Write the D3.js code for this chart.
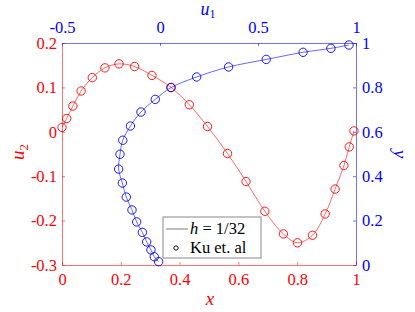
<!DOCTYPE html>
<html>
<head>
<meta charset="utf-8">
<script src="https://cdn.jsdelivr.net/npm/d3@7"></script>
</head>
<body style="margin:0;background:#fff">
<div id="chart"></div>
<script>
// Red series: u2 along the horizontal centre line (x, u2)
const redX  = [0.000, 0.016, 0.037, 0.065, 0.103, 0.146, 0.194, 0.247, 0.306, 0.371, 0.433, 0.495,
               0.563, 0.626, 0.690, 0.753, 0.801, 0.852, 0.895, 0.929, 0.959, 0.977, 0.993];
const redU2 = [0.010, 0.030, 0.058, 0.092, 0.122, 0.144, 0.153, 0.147, 0.127, 0.100, 0.061, 0.012,
               -0.049, -0.112, -0.179, -0.230, -0.250, -0.233, -0.185, -0.129, -0.076, -0.034, 0.002];

// Blue series: u1 along the vertical centre line (u1, y)
const blueU1 = [-0.007, -0.029, -0.046, -0.068, -0.090, -0.119, -0.143, -0.172, -0.192, -0.211, -0.204,
                -0.190, -0.151, -0.097, -0.024, 0.056, 0.187, 0.350, 0.542, 0.730, 0.872, 0.964];
const blueY  = [0.015, 0.037, 0.068, 0.104, 0.147, 0.194, 0.248, 0.306, 0.369, 0.432, 0.499,
                0.562, 0.626, 0.689, 0.746, 0.799, 0.847, 0.892, 0.926, 0.958, 0.976, 0.991];

const xTicks  = [0, 0.2, 0.4, 0.6, 0.8, 1];
const u2Ticks = [-0.3, -0.2, -0.1, 0, 0.1, 0.2];
const u1Ticks = [-0.5, 0, 0.5, 1];
const yTicks  = [0, 0.2, 0.4, 0.6, 0.8, 1];

const legendItems = ["h = 1/32", "Ku et. al"];

const red = "#ff0000", blue = "#0000ff";
const FONT = "Liberation Serif";

const W = 415, H = 312;
const margin = {top: 43, right: 59, bottom: 47, left: 62};
const width = W - margin.left - margin.right;
const height = H - margin.top - margin.bottom;

const svg = d3.select("#chart").append("svg")
    .attr("width", W)
    .attr("height", H)
    .attr("font-family", FONT);

const g = svg.append("g")
    .attr("transform", `translate(${margin.left},${margin.top})`);

// scales
const x  = d3.scaleLinear().domain([0, 1]).range([0, width]);
const u1 = d3.scaleLinear().domain([-0.5, 1]).range([0, width]);
const u2 = d3.scaleLinear().domain([-0.3, 0.2]).range([height, 0]);
const y  = d3.scaleLinear().domain([0, 1]).range([height, 0]);

const fmt = d => String(d);

function styleAxis(sel, color) {
  sel.attr("font-family", FONT).attr("font-size", 16.5);
  sel.select(".domain").attr("stroke", color).attr("stroke-opacity", 0.55);
  sel.selectAll(".tick line").attr("stroke", color).attr("stroke-opacity", 0.55);
  sel.selectAll(".tick text").attr("fill", color).attr("font-family", FONT);
}

// axes
g.append("g")
    .attr("transform", `translate(0,${height})`)
    .call(d3.axisBottom(x).tickValues(xTicks).tickFormat(fmt).tickSize(-3).tickSizeOuter(0).tickPadding(8))
    .call(s => styleAxis(s, red));

g.append("g")
    .call(d3.axisLeft(u2).tickValues(u2Ticks).tickFormat(fmt).tickSize(-3).tickSizeOuter(0).tickPadding(5))
    .call(s => styleAxis(s, red));

g.append("g")
    .call(d3.axisTop(u1).tickValues(u1Ticks).tickFormat(fmt).tickSize(-3).tickSizeOuter(0).tickPadding(10))
    .call(s => styleAxis(s, blue));

g.append("g")
    .attr("transform", `translate(${width},0)`)
    .call(d3.axisRight(y).tickValues(yTicks).tickFormat(fmt).tickSize(-3).tickSizeOuter(0).tickPadding(6))
    .call(s => styleAxis(s, blue));

// axis labels
svg.append("text")
    .attr("x", 210).attr("y", 305)
    .attr("text-anchor", "middle")
    .attr("fill", red)
    .attr("font-family", FONT)
    .attr("font-size", 19).attr("font-style", "italic")
    .text("x");

const u2Label = svg.append("text")
    .attr("transform", "translate(24,152) rotate(-90)")
    .attr("text-anchor", "middle")
    .attr("fill", red)
    .attr("font-family", FONT)
    .attr("font-size", 19).attr("font-style", "italic");
u2Label.append("tspan").text("u");
u2Label.append("tspan").attr("dy", 4).attr("font-size", 13).attr("font-style", "normal").text("2");

const u1Label = svg.append("text")
    .attr("x", 208).attr("y", 15)
    .attr("text-anchor", "middle")
    .attr("fill", blue)
    .attr("font-family", FONT)
    .attr("font-size", 18).attr("font-style", "italic");
u1Label.append("tspan").text("u");
u1Label.append("tspan").attr("dy", 3).attr("font-size", 12).attr("font-style", "normal").text("1");

svg.append("text")
    .attr("transform", "translate(394,154) rotate(90)")
    .attr("text-anchor", "middle")
    .attr("fill", blue)
    .attr("font-family", FONT)
    .attr("font-size", 19).attr("font-style", "italic")
    .text("y");

// data
const redData = redX.map((d, i) => ({a: d, b: redU2[i]}));
const blueData = blueU1.map((d, i) => ({a: d, b: blueY[i]}));

const redLine = d3.line().x(d => x(d.a)).y(d => u2(d.b)).curve(d3.curveCatmullRom);
const blueLine = d3.line().x(d => u1(d.a)).y(d => y(d.b)).curve(d3.curveCatmullRom);

g.append("path")
    .datum(redData)
    .attr("d", redLine)
    .attr("fill", "none")
    .attr("stroke", red)
    .attr("stroke-opacity", 0.75)
    .attr("stroke-width", 0.8);

g.append("path")
    .datum(blueData)
    .attr("d", blueLine)
    .attr("fill", "none")
    .attr("stroke", blue)
    .attr("stroke-opacity", 0.75)
    .attr("stroke-width", 0.8);

g.selectAll(".red-pt")
    .data(redData)
    .enter().append("circle")
    .attr("cx", d => x(d.a))
    .attr("cy", d => u2(d.b))
    .attr("r", 4.2)
    .attr("fill", "none")
    .attr("stroke", red)
    .attr("stroke-width", 0.9);

g.selectAll(".blue-pt")
    .data(blueData)
    .enter().append("circle")
    .attr("cx", d => u1(d.a))
    .attr("cy", d => y(d.b))
    .attr("r", 4.2)
    .attr("fill", "none")
    .attr("stroke", blue)
    .attr("stroke-width", 0.9);

// legend
const legend = svg.append("g").attr("transform", "translate(163,217)");

legend.append("rect")
    .attr("width", 98).attr("height", 41)
    .attr("fill", "#fff")
    .attr("stroke", "#888")
    .attr("stroke-width", 1);

legend.append("line")
    .attr("x1", 3).attr("x2", 25)
    .attr("y1", 12).attr("y2", 12)
    .attr("stroke", "#555")
    .attr("stroke-width", 0.8);

const t1 = legend.append("text")
    .attr("x", 27).attr("y", 17)
    .attr("fill", "#000")
    .attr("font-family", FONT)
    .attr("font-size", 16.5);
t1.append("tspan").attr("font-style", "italic").text("h");
t1.append("tspan").text(legendItems[0].slice(1));

legend.append("circle")
    .attr("cx", 13).attr("cy", 31)
    .attr("r", 2.2)
    .attr("fill", "none")
    .attr("stroke", "#000")
    .attr("stroke-width", 0.9);

legend.append("text")
    .attr("x", 27).attr("y", 36)
    .attr("fill", "#000")
    .attr("font-family", FONT)
    .attr("font-size", 16.5)
    .text(legendItems[1]);
</script>
</body>
</html>
